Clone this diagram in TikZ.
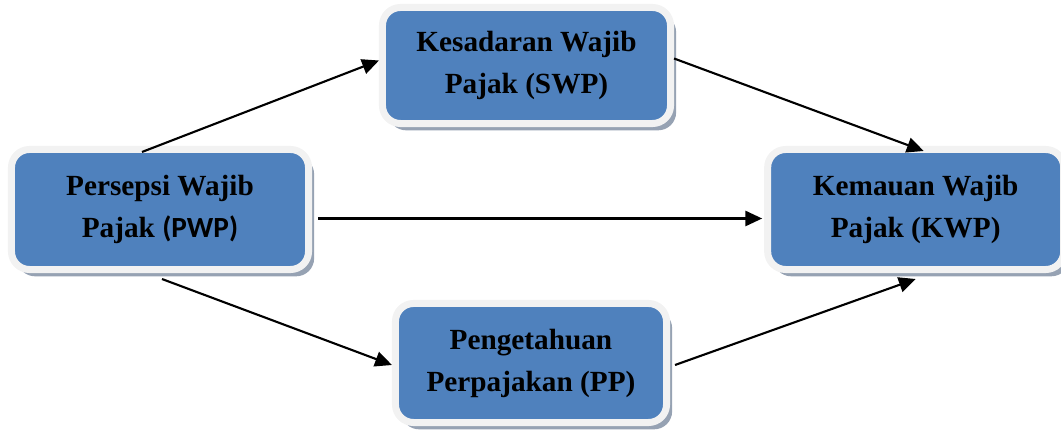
\documentclass[tikz,border=0pt]{standalone}
\usepackage{fontspec}
\setmainfont{Liberation Serif}
\newfontfamily\calfont{Carlito}
\usetikzlibrary{arrows.meta,shadows,calc}
\usetikzlibrary{positioning}

\definecolor{boxblue}{HTML}{4F81BD}
\definecolor{boxrim}{HTML}{F2F2F2}
\definecolor{rimshadow}{HTML}{96A2B3}

\tikzset{
  varbox/.style={rectangle, rounded corners=0.45cm, fill=boxblue, draw=boxrim,
    line width=0.175cm, align=center, inner sep=0pt,
    font=\bfseries\fontsize{20.8}{29.9}\selectfont,
    drop shadow={shadow xshift=0.14cm, shadow yshift=-0.17cm, fill=rimshadow, opacity=1}},
  link/.style={line width=1.5pt, -{Triangle[length=0.42cm,width=0.38cm]}}
}

\begin{document}
\begin{tikzpicture}[x=0.025cm, y=-0.025cm]
\useasboundingbox (0,0) rectangle (1061,432);

\node[varbox, minimum width=7.425cm, minimum height=3cm] (pwp) at (160,209.5)
  {Persepsi Wajib\\Pajak {\calfont(PWP)}};
\node[varbox, minimum width=7.2cm, minimum height=2.9cm] (swp) at (526.5,65.5)
  {Kesadaran Wajib\\Pajak (SWP)};
\node[varbox, minimum width=7.4cm, minimum height=3cm] (kwp) [right=11.3cm of pwp]
  {Kemauan Wajib\\Pajak (KWP)};
\node[varbox, minimum width=6.775cm, minimum height=2.975cm] (pp) at (531,363)
  {Pengetahuan\\Perpajakan (PP)};

\draw[link] ($(pwp.north)+(-18,6)$) -- ($(swp.west)+(0,-5)$);
\draw[link] ($(swp.east)+(0,-7)$) -- ($(kwp.north)+(8,5)$);
\draw[link] ($(pwp.east)+(6,9)$) -- ($(kwp.west)+(-2,9)$);
\draw[link] ($(pwp.south)+(2,6)$) -- ($(pp.west)+(0,2)$);
\draw[link] ($(pp.east)+(5,2)$) -- ($(kwp.south)+(0,6)$);
\end{tikzpicture}
\end{document}
